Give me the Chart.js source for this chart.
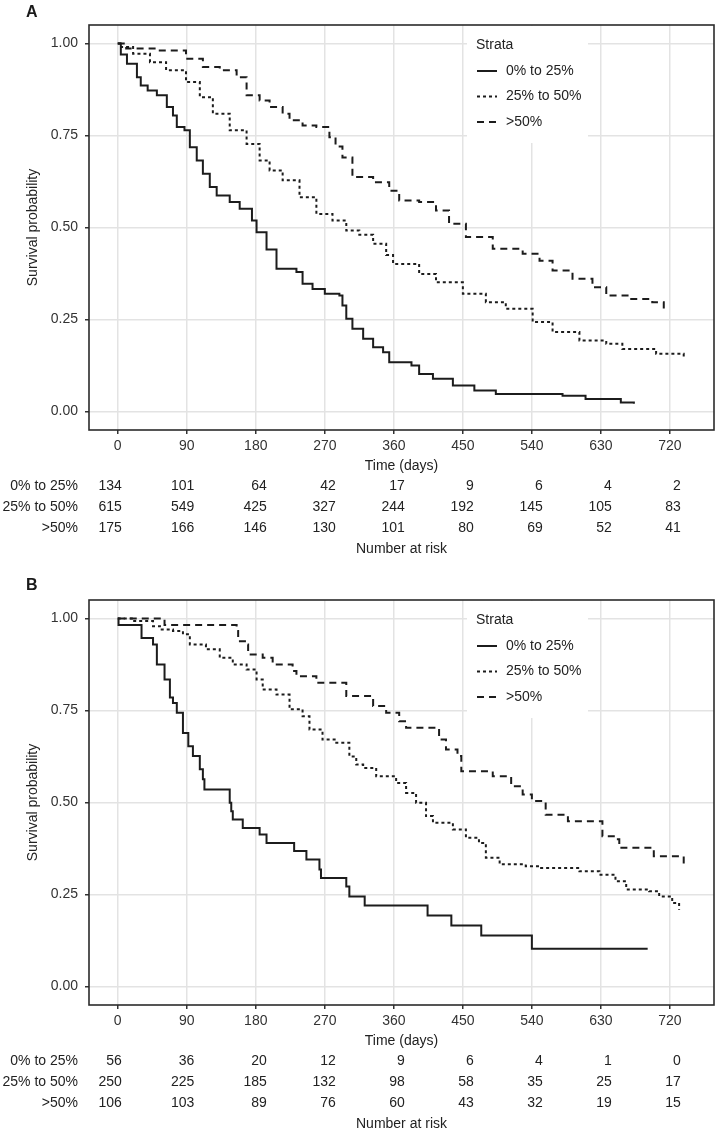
<!DOCTYPE html>
<html>
<head>
<meta charset="utf-8">
<script src="https://cdn.jsdelivr.net/npm/chart.js@4.4.1/dist/chart.umd.min.js"></script>
<style>
  body { margin: 0; background: #fff; width: 716px; height: 1132px; position: relative; overflow: hidden; }
  canvas { position: absolute; left: 0; }
  #chartA { top: 0; }
  #chartB { top: 566px; }
  .tag { position: absolute; left: 26px; font: bold 16px "Liberation Sans", Arial, sans-serif; color: #1a1a1a; }
</style>
</head>
<body>
<canvas id="chartA" width="716" height="566"></canvas>
<canvas id="chartB" width="716" height="566"></canvas>
<div class="tag" style="top:3px">A</div>
<div class="tag" style="top:576px">B</div>
<script>
// Kaplan-Meier curves
const strata = ['0% to 25%', '25% to 50%', '>50%'];
const tickDays = [0, 90, 180, 270, 360, 450, 540, 630, 720];
const yTicks = [0, 0.25, 0.5, 0.75, 1];

// panel A
const aLowT = [0, 4, 12, 25, 30, 39, 51, 64, 72, 77, 87, 94, 103, 111, 120, 129, 146, 159, 175, 181, 194, 207, 233, 241, 254, 270, 289, 293, 298, 306, 320, 333, 346, 354, 383, 393, 411, 437, 465, 493, 580, 610, 656, 673];
const aLowS = [1, 0.97, 0.945, 0.908, 0.886, 0.872, 0.859, 0.827, 0.804, 0.773, 0.764, 0.718, 0.682, 0.646, 0.61, 0.587, 0.569, 0.551, 0.519, 0.487, 0.44, 0.388, 0.379, 0.347, 0.333, 0.32, 0.315, 0.288, 0.252, 0.225, 0.198, 0.175, 0.161, 0.134, 0.125, 0.102, 0.089, 0.071, 0.057, 0.048, 0.043, 0.034, 0.025, 0.021];
const aMidT = [0, 3, 20, 42, 63, 89, 107, 124, 146, 168, 185, 198, 215, 237, 259, 280, 298, 315, 333, 350, 359, 393, 415, 450, 480, 506, 541, 567, 602, 637, 658, 702, 738];
const aMidS = [1, 0.99, 0.972, 0.949, 0.927, 0.895, 0.854, 0.809, 0.764, 0.727, 0.682, 0.655, 0.628, 0.582, 0.537, 0.519, 0.492, 0.48, 0.456, 0.425, 0.401, 0.374, 0.351, 0.32, 0.297, 0.279, 0.243, 0.216, 0.193, 0.184, 0.17, 0.157, 0.143];
const aHighT = [0, 11, 50, 89, 111, 133, 155, 168, 185, 198, 215, 224, 241, 259, 276, 284, 293, 306, 333, 354, 367, 393, 415, 432, 454, 489, 528, 550, 567, 593, 619, 637, 667, 697, 712];
const aHighS = [1, 0.986, 0.981, 0.958, 0.936, 0.927, 0.908, 0.859, 0.845, 0.827, 0.809, 0.791, 0.777, 0.773, 0.745, 0.72, 0.69, 0.637, 0.623, 0.6, 0.573, 0.569, 0.546, 0.51, 0.474, 0.442, 0.429, 0.41, 0.383, 0.361, 0.338, 0.315, 0.306, 0.297, 0.274];

// panel B
const bLowT = [0, 1, 31, 46, 51, 61, 68, 72, 77, 85, 92, 98, 107, 111, 113, 146, 148, 150, 163, 185, 194, 230, 246, 263, 265, 298, 302, 322, 404, 435, 474, 540, 691];
const bLowS = [1, 0.982, 0.947, 0.929, 0.875, 0.834, 0.785, 0.77, 0.744, 0.689, 0.653, 0.626, 0.59, 0.563, 0.535, 0.499, 0.476, 0.454, 0.431, 0.413, 0.39, 0.368, 0.345, 0.318, 0.295, 0.272, 0.245, 0.22, 0.193, 0.166, 0.139, 0.103, 0.103];
const bMidT = [0, 20, 46, 55, 72, 85, 94, 115, 133, 150, 168, 181, 189, 207, 224, 241, 250, 267, 285, 302, 311, 320, 337, 363, 376, 389, 402, 411, 437, 454, 471, 480, 498, 532, 550, 602, 628, 649, 663, 693, 706, 723, 732];
const bMidS = [1, 0.993, 0.979, 0.97, 0.966, 0.957, 0.929, 0.916, 0.893, 0.875, 0.861, 0.834, 0.807, 0.793, 0.753, 0.734, 0.698, 0.671, 0.662, 0.625, 0.603, 0.594, 0.571, 0.553, 0.526, 0.499, 0.463, 0.445, 0.427, 0.404, 0.39, 0.35, 0.332, 0.327, 0.322, 0.313, 0.304, 0.286, 0.264, 0.259, 0.245, 0.227, 0.209];
const bHighT = [0, 61, 155, 157, 168, 170, 189, 202, 228, 233, 259, 298, 333, 350, 367, 376, 419, 428, 443, 448, 489, 513, 528, 540, 558, 587, 632, 649, 654, 699, 738];
const bHighS = [1, 0.982, 0.966, 0.938, 0.929, 0.902, 0.893, 0.875, 0.857, 0.843, 0.825, 0.789, 0.762, 0.744, 0.721, 0.703, 0.671, 0.644, 0.626, 0.585, 0.571, 0.544, 0.522, 0.504, 0.467, 0.449, 0.408, 0.4, 0.377, 0.354, 0.332];

// number at risk
const riskALow = [134, 101, 64, 42, 17, 9, 6, 4, 2];
const riskAMid = [615, 549, 425, 327, 244, 192, 145, 105, 83];
const riskAHigh = [175, 166, 146, 130, 101, 80, 69, 52, 41];
const riskBLow = [56, 36, 20, 12, 9, 6, 4, 1, 0];
const riskBMid = [250, 225, 185, 132, 98, 58, 35, 25, 17];
const riskBHigh = [106, 103, 89, 76, 60, 43, 32, 19, 15];

const FONT = '"Liberation Sans", Arial, sans-serif';
const INK = '#222';
const lineDash = [[], [3, 3], [7, 5]];

Chart.defaults.font.family = FONT;
Chart.defaults.font.size = 14;
Chart.defaults.color = INK;

// legend box, plot border and risk table
const kmDecor = {
    id: 'kmDecor',
    beforeDatasetsDraw(chart) {
        const { ctx, chartArea: a } = chart;
        ctx.save();
        ctx.fillStyle = '#fff';
        ctx.fillRect(467, a.top + 1, 121, 117);
        ctx.fillStyle = INK;
        ctx.font = '14px ' + FONT;
        ctx.textBaseline = 'middle';
        ctx.textAlign = 'left';
        ctx.fillText('Strata', 476, a.top + 20);
        chart.data.datasets.forEach((ds, i) => {
            const y = a.top + 46 + i * 25.5;
            ctx.strokeStyle = ds.borderColor;
            ctx.lineWidth = 2;
            ctx.setLineDash(ds.borderDash);
            ctx.beginPath();
            ctx.moveTo(477, y);
            ctx.lineTo(497, y);
            ctx.stroke();
            ctx.fillText(ds.label, 506, y);
        });
        ctx.restore();
    },
    afterDatasetsDraw(chart) {
        const { ctx, chartArea: a } = chart;
        ctx.save();
        ctx.strokeStyle = '#2b2b2b';
        ctx.lineWidth = 1.6;
        ctx.strokeRect(a.left, a.top, a.right - a.left, a.bottom - a.top);
        ctx.restore();
    },
    afterDraw(chart, args, opts) {
        const { ctx, chartArea: a } = chart;
        const xs = chart.scales.x;
        ctx.save();
        ctx.fillStyle = INK;
        ctx.font = '14px ' + FONT;
        ctx.textBaseline = 'middle';
        opts.risk.forEach((row, r) => {
            const y = a.bottom + 56 + r * 21;
            ctx.textAlign = 'right';
            ctx.fillText(strata[r], 78, y);
            row.forEach((n, k) => {
                const t = tickDays[k];
                const shift = 4 + 7 * Math.min(t, 180) / 180;
                ctx.fillText(String(n), xs.getPixelForValue(t) + shift, y);
            });
        });
        ctx.textAlign = 'center';
        ctx.fillText('Number at risk', (a.left + a.right) / 2, a.bottom + 119);
        ctx.restore();
    }
};

function makePanel(id, series, risk, topPad, bottomPad) {
    const datasets = series.map((s, i) => ({
        label: strata[i],
        data: s[0].map((t, k) => ({ x: t, y: s[1][k] })),
        stepped: 'before',
        borderColor: '#1c1c1c',
        borderWidth: 2,
        borderDash: lineDash[i],
        pointRadius: 0,
        fill: false
    }));
    return new Chart(document.getElementById(id), {
        type: 'line',
        data: { datasets: datasets },
        options: {
            responsive: false,
            animation: false,
            devicePixelRatio: 1,
            layout: { padding: { left: 0, top: topPad, right: 2, bottom: bottomPad } },
            plugins: {
                legend: { display: false },
                tooltip: { enabled: false },
                kmDecor: { risk: risk }
            },
            scales: {
                x: {
                    type: 'linear',
                    min: -37.5,
                    max: 777.5,
                    afterBuildTicks: sc => { sc.ticks = tickDays.map(v => ({ value: v })); },
                    afterFit: sc => { sc.height = 50; },
                    ticks: { color: '#333', padding: 4, maxRotation: 0, autoSkip: false },
                    grid: { color: '#e3e3e3', lineWidth: 1.5, tickColor: '#333', tickLength: 4 },
                    border: { display: false },
                    title: { display: true, text: 'Time (days)', color: INK, padding: { top: 0, bottom: 5 } }
                },
                y: {
                    min: -0.05,
                    max: 1.05,
                    afterBuildTicks: sc => { sc.ticks = yTicks.map(v => ({ value: v })); },
                    afterFit: sc => { sc.width = 89; },
                    ticks: { color: '#333', padding: 7, callback: v => v.toFixed(2) },
                    grid: { color: '#e3e3e3', lineWidth: 1.5, tickColor: '#333', tickLength: 4 },
                    border: { display: false },
                    title: { display: true, text: 'Survival probability', color: INK, padding: { top: 25, bottom: 0 } }
                }
            }
        },
        plugins: [kmDecor]
    });
}

makePanel('chartA', [[aLowT, aLowS], [aMidT, aMidS], [aHighT, aHighS]], [riskALow, riskAMid, riskAHigh], 25, 86);
makePanel('chartB', [[bLowT, bLowS], [bMidT, bMidS], [bHighT, bHighS]], [riskBLow, riskBMid, riskBHigh], 34, 77);
</script>
</body>
</html>
